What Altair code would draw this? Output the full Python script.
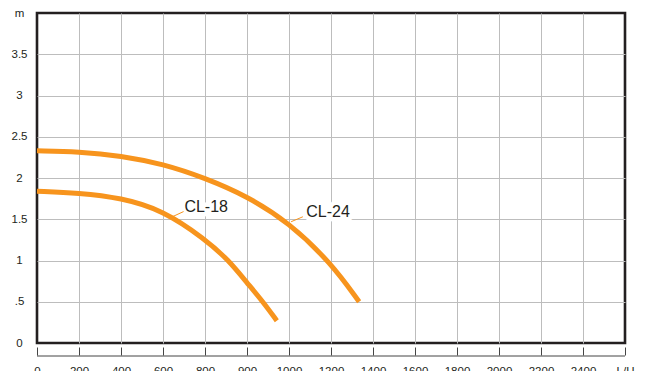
import altair as alt
import pandas as pd

# ---- data ----
x_tick_labels = ["0", "200", "400", "600", "800", "900", "1000", "1200",
                 "1400", "1600", "1800", "2000", "2200", "2400", "L/H"]
y_tick_values = [0, 0.5, 1, 1.5, 2, 2.5, 3, 3.5, 4]
y_tick_labels = ["0", ".5", "1", "1.5", "2", "2.5", "3", "3.5", "m"]

# x in tick-position units (0 = "0", 14 = "L/H"), y in metres
cl18_x = [0, 1, 2, 3, 4, 4.55, 5, 5.38, 5.71]
cl18_y = [1.84, 1.82, 1.76, 1.61, 1.26, 1.01, 0.73, 0.50, 0.27]
cl24_x = [0, 1, 2, 3, 4, 5, 6, 7, 7.67]
cl24_y = [2.33, 2.32, 2.27, 2.17, 2.00, 1.78, 1.46, 0.97, 0.50]

label_names = ["CL-18", "CL-24"]
label_x = [3.51, 6.41]
label_y = [1.65, 1.59]
leader_x = [3.20, 6.05]
leader_y = [1.525, 1.47]
leader_x2 = [3.49, 6.33]
leader_y2 = [1.593, 1.53]

# ---- tables ----
curves = pd.DataFrame(
    [{"x": a, "y": b, "series": "CL-18", "o": i} for i, (a, b) in enumerate(zip(cl18_x, cl18_y))]
    + [{"x": a, "y": b, "series": "CL-24", "o": i} for i, (a, b) in enumerate(zip(cl24_x, cl24_y))]
)
labels = pd.DataFrame({"name": label_names, "x": label_x, "y": label_y})
leaders = pd.DataFrame({"x": leader_x, "y": leader_y, "x2": leader_x2, "y2": leader_y2})
n_last = len(x_tick_labels) - 1
baseline = pd.DataFrame({"x": [0], "x2": [n_last]})

ORANGE = "#F7941D"
DARK = "#231f20"
GRID = "#bdbdbd"
FONT = "Liberation Sans"

def js_list(lst):
    return "[" + ",".join("'" + s + "'" for s in lst) + "]"

x_axis = alt.Axis(
    values=list(range(len(x_tick_labels))),
    labelExpr=js_list(x_tick_labels) + "[round(datum.value)]",
    title=None, offset=4, domain=False, tickSize=8, tickColor="#444", tickWidth=1,
    labelPadding=10, labelBaseline="top", labelFlush=False, labelOverlap=False,
    labelFontSize=11.5, labelColor=DARK, labelFont=FONT,
    grid=True, gridColor=GRID, gridWidth=1,
    gridOpacity={"condition": {"test": f"datum.value == 0 || datum.value == {n_last}", "value": 0}, "value": 1},
)
y_axis = alt.Axis(
    values=y_tick_values,
    labelExpr=js_list(y_tick_labels) + "[round(datum.value * 2)]",
    title=None, domain=False, ticks=False, labelAlign="center", labelBaseline="middle",
    labelPadding=18, labelFlush=False, labelOverlap=False,
    labelFontSize=11.5, labelColor=DARK, labelFont=FONT,
    grid=True, gridColor=GRID, gridWidth=1,
    gridOpacity={"condition": {"test": "datum.value == 0 || datum.value == 4", "value": 0}, "value": 1},
)

xs = alt.Scale(domain=[0, n_last], nice=False, zero=False)
ys = alt.Scale(domain=[0, 4], nice=False, zero=True)

lines = alt.Chart(curves).mark_line(
    color=ORANGE, strokeWidth=5, interpolate="basis", strokeCap="butt"
).encode(
    x=alt.X("x:Q", scale=xs, axis=x_axis),
    y=alt.Y("y:Q", scale=ys, axis=y_axis),
    detail="series:N",
    order="o:Q",
)

lead = alt.Chart(leaders).mark_rule(color=ORANGE, strokeWidth=1).encode(
    x="x:Q", y="y:Q", x2="x2:Q", y2="y2:Q"
)

halo = alt.Chart(labels).mark_text(
    align="left", baseline="middle", font=FONT, fontSize=16,
    stroke="white", strokeWidth=9, strokeJoin="round", fill="white",
).encode(x="x:Q", y="y:Q", text="name:N")

txt = alt.Chart(labels).mark_text(
    align="left", baseline="middle", font=FONT, fontSize=16, color=DARK
).encode(x="x:Q", y="y:Q", text="name:N")

axis_line = alt.Chart(baseline).mark_rule(color="#444", strokeWidth=1).encode(
    x="x:Q", x2="x2:Q", y=alt.value(343)
)

chart = alt.layer(halo, lead, lines, txt, axis_line).properties(
    width=588, height=330,
    autosize=alt.AutoSizeParams(type="none"),
    padding={"left": 29, "top": 5, "right": 13, "bottom": 40},
    background="white",
).configure_view(stroke=DARK, strokeWidth=2.6)

chart.save("out.html", embed_options={"renderer": "svg", "actions": False})
